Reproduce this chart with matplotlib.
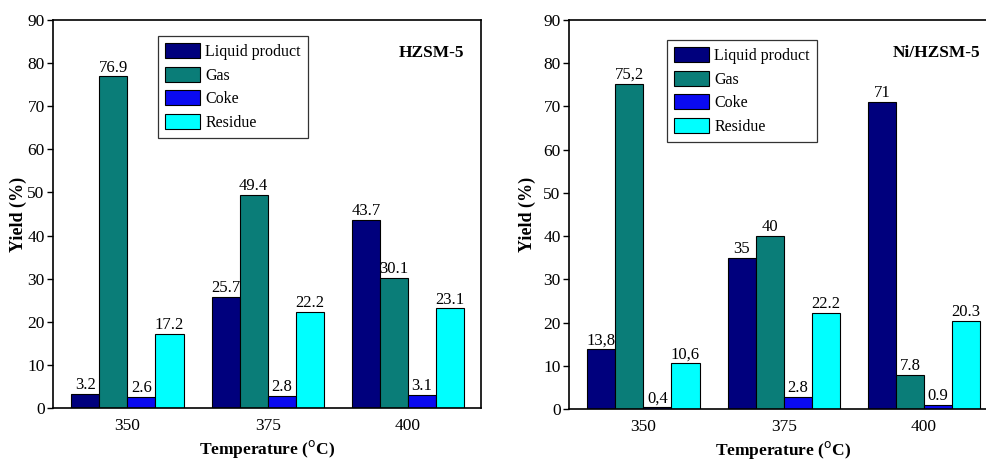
import numpy as np
import matplotlib
matplotlib.use("Agg")
import matplotlib.pyplot as plt

plt.rcParams['font.family'] = ['Liberation Serif', 'DejaVu Serif']

temps = ["350", "375", "400"]
products = ["Liquid product", "Gas", "Coke", "Residue"]
colors = ["#00007d", "#0a7d78", "#0a0af0", "#00ffff"]

# yields as printed above each bar (the Ni panel mixes comma and dot decimals)
hzsm_labels = {
    "Liquid product": ["3.2", "25.7", "43.7"],
    "Gas": ["76.9", "49.4", "30.1"],
    "Coke": ["2.6", "2.8", "3.1"],
    "Residue": ["17.2", "22.2", "23.1"],
}
ni_labels = {
    "Liquid product": ["13,8", "35", "71"],
    "Gas": ["75,2", "40", "7.8"],
    "Coke": ["0,4", "2.8", "0.9"],
    "Residue": ["10,6", "22.2", "20.3"],
}


def to_value(s):
    return float(s.replace(",", "."))


def draw_panel(ax, labels, title, legend_anchor, ylabel_x):
    x = np.arange(len(temps))
    w = 0.2
    for i, prod in enumerate(products):
        vals = [to_value(s) for s in labels[prod]]
        pos = x + (i - 1.5) * w
        ax.bar(pos, vals, width=w, color=colors[i], edgecolor="black",
               linewidth=0.8, label=prod)
        for px, v, s in zip(pos, vals, labels[prod]):
            ax.text(px, v + 0.2, s, ha="center", va="bottom", fontsize=12)

    ax.set_ylim(0, 90)
    ax.set_yticks(range(0, 91, 10))
    ax.set_xlim(-0.53, 2.52)
    ax.set_xticks(x)
    ax.set_xticklabels(temps)
    ax.tick_params(axis="x", length=0, pad=7, labelsize=12.5)
    ax.tick_params(axis="y", direction="out", length=4, width=1,
                   labelsize=12.5, pad=2)
    for sp in ax.spines.values():
        sp.set_linewidth(1.2)

    ax.set_ylabel("Yield (%)", fontweight="bold", fontsize=13)
    ax.yaxis.set_label_coords(ylabel_x, 0.5)
    ax.set_xlabel("Temperature ($^{\\mathrm{o}}$C)", fontweight="bold",
                  fontsize=12.5, labelpad=3)
    ax.text(0.96, 0.915, title, transform=ax.transAxes, ha="right",
            va="center", fontweight="bold", fontsize=12.5)

    leg = ax.legend(loc="upper left", bbox_to_anchor=legend_anchor,
                    fontsize=11.5, frameon=True, fancybox=False,
                    edgecolor="black", handlelength=2.2, handleheight=1.05,
                    labelspacing=0.42, handletextpad=0.3, borderpad=0.45,
                    borderaxespad=0)
    leg.get_frame().set_linewidth(0.9)


fig = plt.figure(figsize=(9.87, 4.61), dpi=100)
W, H = 987, 461
ax1 = fig.add_axes([53 / W, (H - 408) / H, 428 / W, 388 / H])
ax2 = fig.add_axes([569 / W, (H - 409) / H, 428 / W, 389 / H])

draw_panel(ax1, hzsm_labels, "HZSM-5", (105 / 428, 1 - 16 / 388), -0.061)
draw_panel(ax2, ni_labels, "Ni/HZSM-5", (98 / 428, 1 - 20 / 389), -0.077)

fig.savefig("out.png", dpi=100)
